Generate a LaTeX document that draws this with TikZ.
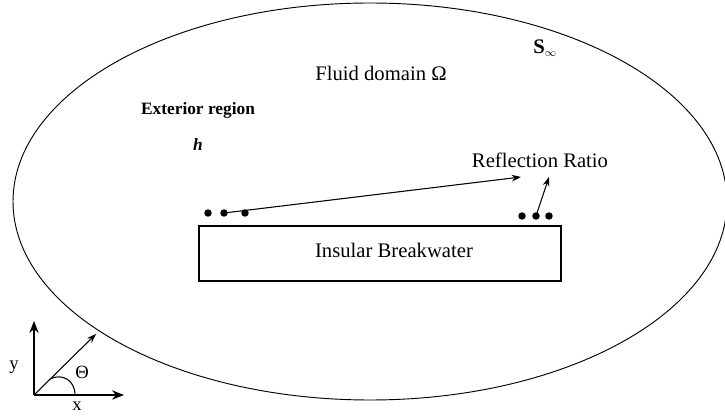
\documentclass[tikz,border=0pt]{standalone}
\usepackage{fontspec}
\setmainfont{Liberation Serif}
\usepackage{tikz}
\usetikzlibrary{arrows.meta}

\begin{document}
\begin{tikzpicture}[x=0.75pt, y=-0.75pt,
		dot/.style={circle, fill, minimum size=5.6pt, inner sep=0mm, outer sep=0mm},
		lbl/.style={font=\fontsize{15.5}{18}\selectfont, inner sep=0pt},
		ray/.style={-{Stealth[length=7pt, width=5pt]}, line width=0.8pt},
		axis/.style={-{Stealth[length=9pt, width=7pt]}, line width=0.9pt}]
		\useasboundingbox (0,0) rectangle (725,416);
		\draw[line width=0.7pt] (370,201.5) ellipse [x radius=357, y radius=198.5];
		\node[lbl] at (545,48) (sinf) {\textbf{S}$_{\scriptscriptstyle\infty}$};
		\node[lbl] at (381,73) (fluid) {Fluid domain Ω};
		\node[lbl, font=\bfseries\fontsize{13}{15}\selectfont] at (198,110) (ext) {Exterior region};
		\node[lbl, font=\bfseries\itshape\fontsize{13}{15}\selectfont] at (198,144) (h) {h};
		\node[lbl] at (540,160) (refl) {Reflection Ratio};
		\node[draw, line width=1.1pt, minimum width=362*0.75pt, minimum height=55*0.75pt,
			lbl] at (380,253.5) (bw) {};
		\node[lbl] at (394,250) (bwtext) {Insular Breakwater};
		\node[dot] at (208,213) (l1) {};
		\node[dot] at (224,213) (l2) {};
		\node[dot] at (245,213) (l3) {};
		\node[dot] at (522,216) (r1) {};
		\node[dot] at (536,216) (r2) {};
		\node[dot] at (549,216) (r3) {};
		\coordinate (t1) at (521,177);
		\coordinate (t2) at (549,177);
		\draw[ray] (l2.center)--(t1);
		\draw[ray] (r2.center)--(t2);
		% coordinate axes
		\coordinate (o) at (34,395);
		\coordinate (xe) at (124,395);
		\coordinate (ye) at (34,321);
		\coordinate (de) at (96,334);
		\draw[axis] (o)--(xe);
		\draw[axis] (o)--(ye);
		\draw[ray] (o)--(de);
		\draw[line width=0.8pt] (75,395) .. controls (75,380) and (62,373) .. (50,379);
		\node[lbl, font=\fontsize{14}{16}\selectfont] at (82,372) (th) {Θ};
		\node[lbl, font=\fontsize{14}{16}\selectfont] at (14,367) (ylab) {y};
		\node[lbl, font=\fontsize{14}{16}\selectfont] at (77,406) (xlab) {x};
	\end{tikzpicture}
\end{document}
